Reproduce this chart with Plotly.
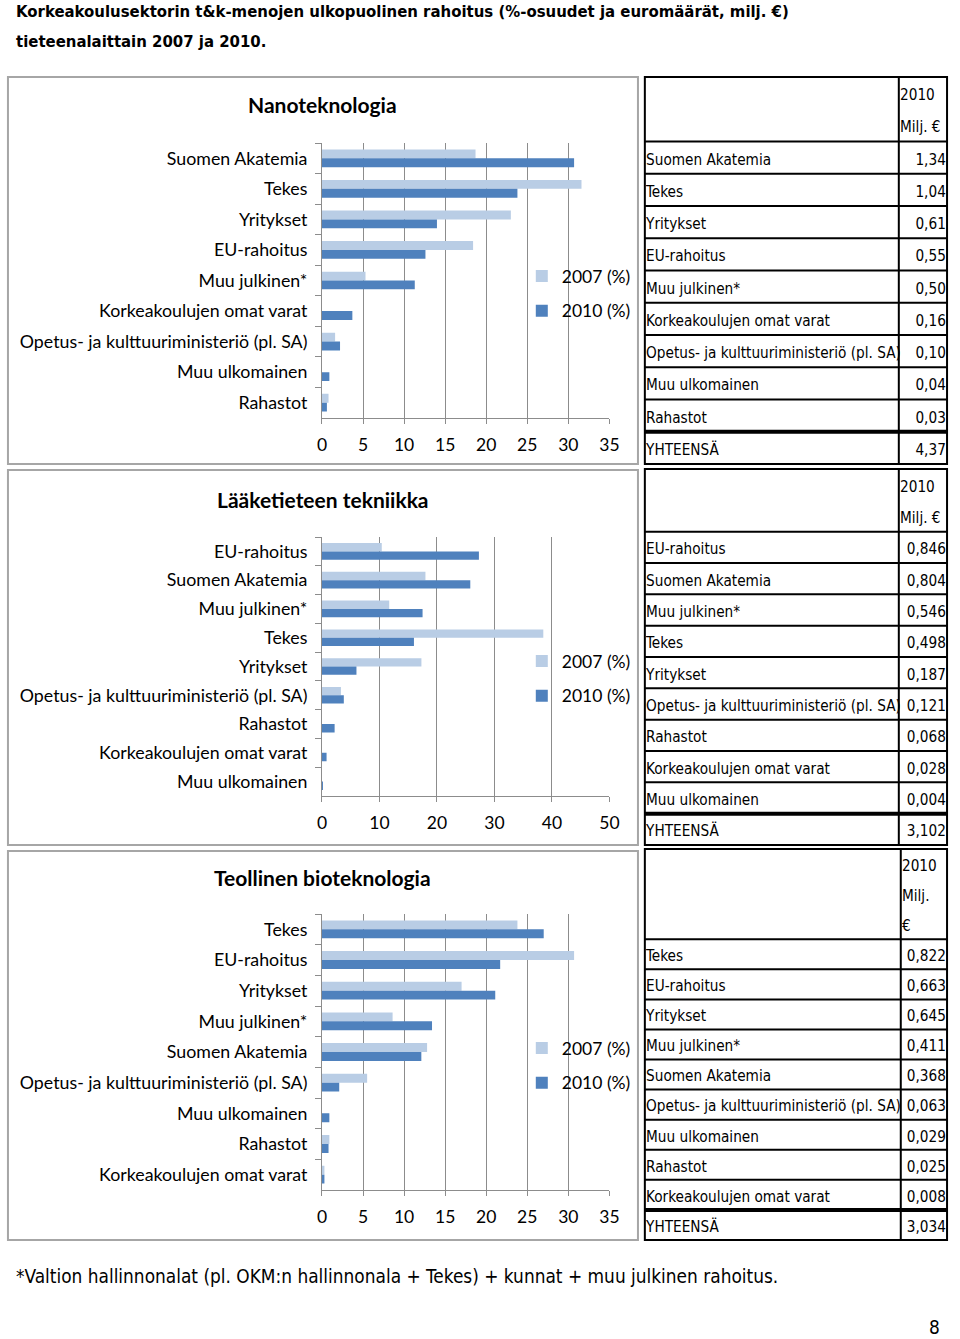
import plotly.graph_objects as go

W, H = 960, 1339

# ---------------- DATA ----------------
page_title = ["Korkeakoulusektorin t&k-menojen ulkopuolinen rahoitus (%-osuudet ja euromäärät, milj. €)",
              "tieteenalaittain 2007 ja 2010."]
footnote = "*Valtion hallinnonalat (pl. OKM:n hallinnonala + Tekes) + kunnat + muu julkinen rahoitus."
page_number = "8"
series_names = ["2007 (%)", "2010 (%)"]
total_label = "YHTEENSÄ"

nano_title = "Nanoteknologia"
nano_cats = ["Suomen Akatemia", "Tekes", "Yritykset", "EU-rahoitus", "Muu julkinen*",
             "Korkeakoulujen omat varat", "Opetus- ja kulttuuriministeriö (pl. SA)",
             "Muu ulkomainen", "Rahastot"]
nano_2007 = [18.7, 31.6, 23.0, 18.4, 5.3, 0.0, 1.6, 0.0, 0.8]
nano_2010 = [30.7, 23.8, 14.0, 12.6, 11.3, 3.7, 2.2, 0.9, 0.6]
nano_milj = [1.34, 1.04, 0.61, 0.55, 0.50, 0.16, 0.10, 0.04, 0.03]
nano_head = ["2010", "Milj. €"]
nano_ticks = [0, 5, 10, 15, 20, 25, 30, 35]

med_title = "Lääketieteen tekniikka"
med_cats = ["EU-rahoitus", "Suomen Akatemia", "Muu julkinen*", "Tekes", "Yritykset",
            "Opetus- ja kulttuuriministeriö (pl. SA)", "Rahastot",
            "Korkeakoulujen omat varat", "Muu ulkomainen"]
med_2007 = [10.4, 18.0, 11.7, 38.5, 17.3, 3.3, 0.0, 0.0, 0.0]
med_2010 = [27.3, 25.8, 17.5, 16.0, 6.0, 3.8, 2.2, 0.8, 0.1]
med_milj = [0.846, 0.804, 0.546, 0.498, 0.187, 0.121, 0.068, 0.028, 0.004]
med_head = ["2010", "Milj. €"]
med_ticks = [0, 10, 20, 30, 40, 50]

bio_title = "Teollinen bioteknologia"
bio_cats = ["Tekes", "EU-rahoitus", "Yritykset", "Muu julkinen*", "Suomen Akatemia",
            "Opetus- ja kulttuuriministeriö (pl. SA)", "Muu ulkomainen", "Rahastot",
            "Korkeakoulujen omat varat"]
bio_2007 = [23.8, 30.7, 17.0, 8.6, 12.8, 5.5, 0.0, 0.9, 0.3]
bio_2010 = [27.0, 21.7, 21.1, 13.4, 12.1, 2.1, 0.9, 0.8, 0.3]
bio_milj = [0.822, 0.663, 0.645, 0.411, 0.368, 0.063, 0.029, 0.025, 0.008]
bio_head = ["2010", "Milj.", "€"]
bio_ticks = [0, 5, 10, 15, 20, 25, 30, 35]

# ---------------- STYLE / LAYOUT ----------------
C07 = "#b9cde5"
C10 = "#4f81bd"
AX = "#8c8c8c"
CH_FONT = "Lato, Liberation Sans, sans-serif"
TB_FONT = "DejaVu Sans Condensed, DejaVu Sans, sans-serif"
TB_SIZE = 15.2
TXT_SHIFT = 0.1  # table text sits slightly below the cell middle (row units)


def fx(x):
    return min(1.0, max(0.0, x / W))


def fy(y):
    return min(1.0, max(0.0, 1 - y / H))


panels = [
    dict(title=nano_title, cats=nano_cats, v07=nano_2007, v10=nano_2010, milj=nano_milj,
         head=nano_head, ticks=nano_ticks, dec=2,
         box=(3, 77, 643, 464), plot=(322, 143, 614, 418), title_y=105, leg_y=258,
         table=(650, 77, 957, 464), split=908),
    dict(title=med_title, cats=med_cats, v07=med_2007, v10=med_2010, milj=med_milj,
         head=med_head, ticks=med_ticks, dec=3,
         box=(3, 470, 643, 845), plot=(322, 537, 614, 796), title_y=500, leg_y=643,
         table=(650, 469, 957, 845), split=908),
    dict(title=bio_title, cats=bio_cats, v07=bio_2007, v10=bio_2010, milj=bio_milj,
         head=bio_head, ticks=bio_ticks, dec=3,
         box=(3, 851, 643, 1240), plot=(322, 914, 614, 1190), title_y=877, leg_y=1030,
         table=(650, 849, 957, 1240), split=910),
]

fig = go.Figure()
shapes = []
annotations = []
layout = dict(
    width=W, height=H, margin=dict(l=0, r=0, t=0, b=0),
    paper_bgcolor="white", plot_bgcolor="rgba(0,0,0,0)",
    barmode="group", bargap=0.42, bargroupgap=0.0,
    font=dict(family=CH_FONT, color="black", size=17),
)


def fmt(v, dec):
    return f"{v:.{dec}f}".replace(".", ",")


for i, p in enumerate(panels):
    n = i + 1
    xa = "x" if n == 1 else f"x{n}"
    ya = "y" if n == 1 else f"y{n}"
    leg = "legend" if n == 1 else f"legend{n}"
    x0, y0, x1, y1 = p["plot"]

    for name, vals, col in ((series_names[0], p["v07"], C07), (series_names[1], p["v10"], C10)):
        fig.add_trace(go.Bar(
            y=p["cats"], x=vals, orientation="h", name=name, marker=dict(color=col, line=dict(width=0)),
            xaxis=xa, yaxis=ya, legend=leg, legendgroup=f"{n}{name}", hoverinfo="skip"))

    layout["xaxis" if n == 1 else f"xaxis{n}"] = dict(
        domain=[fx(x0), fx(x1)], anchor=ya, range=[0, p["ticks"][-1]],
        tickmode="array", tickvals=p["ticks"], showgrid=True, gridcolor=AX, gridwidth=1,
        showline=True, linecolor=AX, linewidth=1, ticks="outside", ticklen=5, tickcolor=AX,
        zeroline=False, ticklabelstandoff=6, tickfont=dict(size=17.5, family=CH_FONT))
    layout["yaxis" if n == 1 else f"yaxis{n}"] = dict(
        domain=[fy(y1), fy(y0)], anchor=xa, type="category",
        categoryorder="array", categoryarray=p["cats"],
        range=[len(p["cats"]) - 0.5, -0.5],
        showline=True, linecolor=AX, linewidth=1, ticks="outside", tickson="boundaries",
        ticklen=6, tickcolor=AX, showgrid=False, ticklabelstandoff=10,
        tickfont=dict(size=17.8, family=CH_FONT))
    layout[leg] = dict(
        x=fx(525), y=fy(p["leg_y"]), xanchor="left", yanchor="top",
        bgcolor="rgba(0,0,0,0)", font=dict(size=17.5, family=CH_FONT),
        tracegroupgap=9, itemclick=False)

    # chart box
    bx0, by0, bx1, by1 = p["box"]
    shapes.append(dict(type="rect", xref="paper", yref="paper", x0=fx(bx0), x1=fx(bx1),
                       y0=fy(by0), y1=fy(by1), line=dict(color="#a6a6a6", width=2),
                       fillcolor="rgba(0,0,0,0)", layer="below"))
    annotations.append(dict(text=f"<b>{p['title']}</b>", x=fx(323), y=fy(p["title_y"]),
                            xref="paper", yref="paper", showarrow=False, xanchor="center",
                            yanchor="middle", font=dict(size=21, family=CH_FONT)))

    # ---------- table ----------
    tn = n + 3
    txa = f"x{tn}"
    tya = f"y{tn}"
    tx0, ty0, tx1, ty1 = p["table"]
    nrows = len(p["head"]) + len(p["cats"]) + 1
    rowpx = (ty1 - ty0) / nrows
    dx0, dx1 = max(0, tx0 - 4), min(W, tx1 + 3)
    dy0, dy1 = max(0, ty0 - 4), min(H, ty1 + 4)
    rx0 = (dx0 - tx0) / (tx1 - tx0)
    rx1 = (dx1 - tx0) / (tx1 - tx0)
    ry0 = (dy0 - ty0) / rowpx
    ry1 = (dy1 - ty0) / rowpx
    layout[f"xaxis{tn}"] = dict(domain=[fx(dx0), fx(dx1)], range=[rx0, rx1],
                                visible=False, anchor=tya, fixedrange=True)
    layout[f"yaxis{tn}"] = dict(domain=[fy(dy1), fy(dy0)], range=[ry1, ry0],
                                visible=False, anchor=txa, fixedrange=True)
    sp = (p["split"] - tx0) / (tx1 - tx0)
    nh = len(p["head"])
    labels = p["cats"] + [total_label]
    values = [fmt(v, p["dec"]) for v in p["milj"]] + [fmt(sum(p["milj"]), p["dec"])]
    row_y = [nh + k + 0.5 + TXT_SHIFT for k in range(len(labels))]
    tf = dict(family=TB_FONT, size=TB_SIZE, color="black")
    fig.add_trace(go.Scatter(x=[0.004] * len(labels), y=row_y, text=labels, mode="text",
                             textposition="middle right", xaxis=txa, yaxis=tya, showlegend=False,
                             cliponaxis=False, hoverinfo="skip", textfont=tf))
    fig.add_trace(go.Scatter(x=[0.996] * len(values), y=row_y, text=values, mode="text",
                             textposition="middle left", xaxis=txa, yaxis=tya, showlegend=False,
                             cliponaxis=False, hoverinfo="skip", textfont=tf))
    fig.add_trace(go.Scatter(x=[sp + 0.004] * nh, y=[k + 0.5 + TXT_SHIFT for k in range(nh)],
                             text=p["head"], mode="text", textposition="middle right",
                             xaxis=txa, yaxis=tya, showlegend=False, cliponaxis=False,
                             hoverinfo="skip", textfont=tf))
    # table lines
    shapes.append(dict(type="rect", xref=txa, yref=tya, x0=0, x1=1, y0=0, y1=nrows,
                       line=dict(color="black", width=2), fillcolor="rgba(0,0,0,0)"))
    shapes.append(dict(type="line", xref=txa, yref=tya, x0=sp, x1=sp, y0=0, y1=nrows,
                       line=dict(color="black", width=2)))
    for k in range(len(labels)):
        yy = nh + k
        w = 4 if k == len(labels) - 1 else 2
        shapes.append(dict(type="line", xref=txa, yref=tya, x0=0, x1=1, y0=yy, y1=yy,
                           line=dict(color="black", width=w)))

# page texts
annotations.append(dict(text=f"<b>{page_title[0]}</b>", x=fx(9), y=fy(12), xref="paper", yref="paper",
                        showarrow=False, xanchor="left", yanchor="middle",
                        font=dict(size=16.6, family=TB_FONT)))
annotations.append(dict(text=f"<b>{page_title[1]}</b>", x=fx(9), y=fy(41), xref="paper", yref="paper",
                        showarrow=False, xanchor="left", yanchor="middle",
                        font=dict(size=16.6, family=TB_FONT)))
annotations.append(dict(text=footnote, x=fx(9), y=fy(1276), xref="paper", yref="paper",
                        showarrow=False, xanchor="left", yanchor="middle",
                        font=dict(size=18.9, family=TB_FONT)))
annotations.append(dict(text=page_number, x=fx(944), y=fy(1327), xref="paper", yref="paper",
                        showarrow=False, xanchor="center", yanchor="middle",
                        font=dict(size=18.9, family=TB_FONT)))

layout["shapes"] = shapes
layout["annotations"] = annotations
fig.update_layout(**layout)
fig.write_html("out.html", config={"displayModeBar": False},
               post_script="document.body.style.margin='0';document.body.style.overflow='hidden';")
